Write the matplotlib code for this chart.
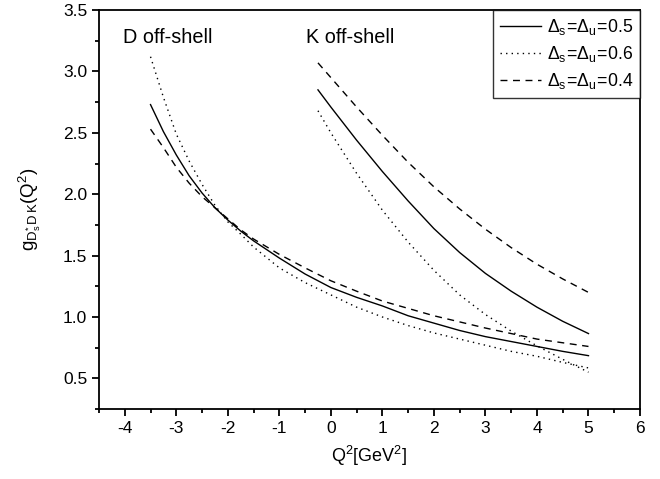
import matplotlib
matplotlib.use("Agg")
import matplotlib.pyplot as plt
from matplotlib.ticker import MultipleLocator

plt.rcParams['font.family'] = ['Liberation Sans', 'DejaVu Sans']
plt.rcParams['mathtext.fontset'] = 'custom'
plt.rcParams['mathtext.rm'] = 'Liberation Sans'
plt.rcParams['mathtext.it'] = 'Liberation Sans'
plt.rcParams['mathtext.bf'] = 'Liberation Sans:bold'
plt.rcParams['axes.unicode_minus'] = False

# D off-shell form factors
q2_d = [-3.5, -3.25, -3.0, -2.75, -2.5, -2.25, -2.0, -1.75, -1.5, -1.0, -0.5,
        0.0, 0.5, 1.0, 1.5, 2.0, 2.5, 3.0, 3.5, 4.0, 4.5, 5.0]
d_05 = [2.73, 2.51, 2.32, 2.15, 2.01, 1.89, 1.79, 1.70, 1.62, 1.48, 1.35,
        1.24, 1.16, 1.09, 1.01, 0.95, 0.89, 0.84, 0.80, 0.76, 0.72, 0.685]
d_06 = [3.12, 2.79, 2.49, 2.27, 2.08, 1.91, 1.775, 1.675, 1.57, 1.40, 1.28,
        1.18, 1.08, 1.00, 0.93, 0.87, 0.82, 0.77, 0.72, 0.68, 0.63, 0.585]
d_04 = [2.53, 2.38, 2.22, 2.09, 1.98, 1.89, 1.80, 1.71, 1.635, 1.51, 1.40,
        1.295, 1.21, 1.13, 1.07, 1.01, 0.96, 0.91, 0.865, 0.82, 0.79, 0.76]

# K off-shell form factors
q2_k = [-0.25, 0.0, 0.5, 1.0, 1.5, 2.0, 2.5, 3.0, 3.5, 4.0, 4.5, 5.0]
k_05 = [2.85, 2.71, 2.44, 2.185, 1.945, 1.72, 1.525, 1.355, 1.21, 1.08, 0.965, 0.865]
k_06 = [2.68, 2.50, 2.17, 1.87, 1.61, 1.38, 1.18, 1.02, 0.885, 0.765, 0.655, 0.55]
k_04 = [3.07, 2.95, 2.71, 2.48, 2.26, 2.06, 1.88, 1.715, 1.565, 1.43, 1.31, 1.20]

labels = [r'$\Delta_s\!=\!\Delta_u\!=\!0.5$',
          r'$\Delta_s\!=\!\Delta_u\!=\!0.6$',
          r'$\Delta_s\!=\!\Delta_u\!=\!0.4$']

fig = plt.figure(figsize=(6.6, 4.79), dpi=100)
ax = fig.add_axes([0.15, 0.146, 0.8197, 0.833])

ls_solid = '-'
ls_dot = (0, (1, 3))
ls_dash = (0, (5, 4))
lw = 1.0

ax.plot(q2_d, d_05, color='black', lw=lw, ls=ls_solid, label=labels[0])
ax.plot(q2_d, d_06, color='black', lw=lw, ls=ls_dot, label=labels[1])
ax.plot(q2_d, d_04, color='black', lw=lw, ls=ls_dash, label=labels[2])
ax.plot(q2_k, k_05, color='black', lw=lw, ls=ls_solid)
ax.plot(q2_k, k_06, color='black', lw=lw, ls=ls_dot)
ax.plot(q2_k, k_04, color='black', lw=lw, ls=ls_dash)

ax.set_xlim(-4.5, 6)
ax.set_ylim(0.25, 3.5)
ax.xaxis.set_major_locator(MultipleLocator(1))
ax.xaxis.set_minor_locator(MultipleLocator(0.5))
ax.yaxis.set_major_locator(MultipleLocator(0.5))
ax.yaxis.set_minor_locator(MultipleLocator(0.25))
ax.set_xticks([-4, -3, -2, -1, 0, 1, 2, 3, 4, 5, 6])
ax.set_yticks([0.5, 1.0, 1.5, 2.0, 2.5, 3.0, 3.5])
ax.set_yticklabels(['0.5', '1.0', '1.5', '2.0', '2.5', '3.0', '3.5'])
ax.tick_params(which='both', direction='out', top=False, right=False, labelsize=12.5)
ax.tick_params(which='major', length=5, width=1.3)
ax.tick_params(which='minor', length=3, width=1.3)
for s in ax.spines.values():
    s.set_linewidth(1.3)

ax.set_xlabel(r'$\mathregular{Q^2[GeV^2]}$', fontsize=13, labelpad=6)
ax.set_ylabel(r'$\mathregular{g_{D^{*}_{s}\,D\,K}(Q^2)}$', fontsize=13.5, labelpad=14)

ax.text(-4.03, 3.28, 'D off-shell', fontsize=14.3, va='center', ha='left')
ax.text(-0.48, 3.28, 'K off-shell', fontsize=14.3, va='center', ha='left')

leg = ax.legend(loc='upper right', fontsize=12.7, frameon=True, fancybox=False,
                edgecolor='black', borderaxespad=0.0, handlelength=2.35,
                handletextpad=0.3, labelspacing=0.4, borderpad=0.4)
leg.get_frame().set_linewidth(1.0)

fig.savefig('out.png', dpi=100)
